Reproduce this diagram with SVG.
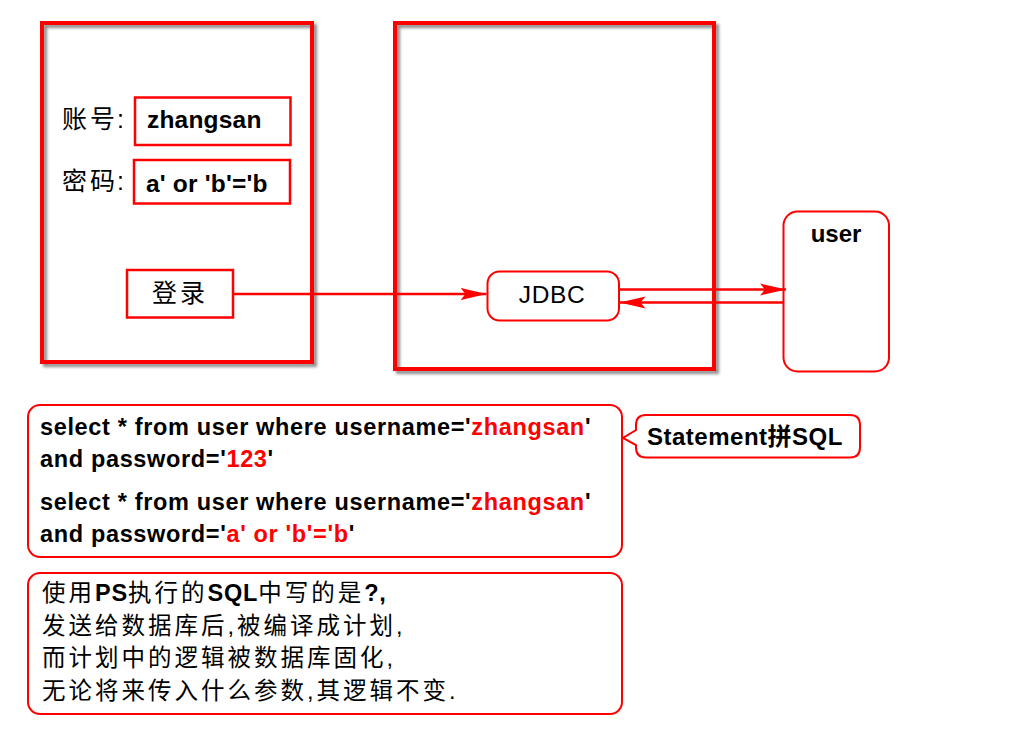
<svg xmlns="http://www.w3.org/2000/svg" width="1024" height="738" viewBox="0 0 1024 738">
<defs>
<filter id="sh" x="-10%" y="-10%" width="125%" height="125%">
<feDropShadow dx="3" dy="3" stdDeviation="1.6" flood-color="#000" flood-opacity="0.45"/>
</filter>
<marker id="ah" markerUnits="userSpaceOnUse" markerWidth="28" markerHeight="14" refX="26" refY="7" orient="auto">
<path d="M0,1 L26,7 L0,13 L5,7 Z" fill="#f00"/>
</marker>
</defs>
<style>
.frame{fill:none;stroke:#f00;stroke-width:4;filter:url(#sh)}
.box{fill:#fff;stroke:#f00;stroke-width:2.5}
.rbox{fill:#fff;stroke:#f00;stroke-width:2}
.t{font-family:"Liberation Sans","Noto Sans CJK SC",sans-serif;fill:#000}
.b{font-weight:bold}
.r{fill:#f00}
.lat{font-weight:bold;letter-spacing:0.8px}
.conn{stroke:#f00;stroke-width:2.5;fill:none;marker-end:url(#ah)}
</style>
<rect width="1024" height="738" fill="#fff"/>

<g id="login-frame">
<rect class="frame" x="42" y="23" width="270" height="339"/>
</g>
<g id="app-frame">
<rect class="frame" x="395" y="23" width="319" height="346"/>
</g>

<g id="account-label"><text class="t" x="62" y="128" font-size="25" letter-spacing="3">账号<tspan dx="-1">:</tspan></text></g>
<g id="account-field">
<rect class="box" x="135" y="97.5" width="155.5" height="47.5"/>
<text class="t b" x="147" y="128" font-size="24.5" letter-spacing="0.2">zhangsan</text>
</g>
<g id="password-label"><text class="t" x="62" y="190" font-size="25" letter-spacing="3">密码<tspan dx="-1">:</tspan></text></g>
<g id="password-field">
<rect class="box" x="134" y="160" width="156" height="43.5"/>
<text class="t b" x="146" y="191.5" font-size="24.5" letter-spacing="0.2">a' or 'b'='b</text>
</g>
<g id="login-button">
<rect class="box" x="127" y="270" width="106" height="47.5"/>
<text class="t" x="180" y="302" font-size="25" letter-spacing="3" text-anchor="middle">登录</text>
</g>

<g id="jdbc">
<rect class="rbox" x="487.5" y="271.5" width="131.5" height="49" rx="12"/>
<text class="t" x="552" y="302.5" font-size="24.5" letter-spacing="0.6" text-anchor="middle">JDBC</text>
</g>
<g id="user-table">
<rect class="rbox" x="783.5" y="211.5" width="105.5" height="160" rx="14"/>
<text class="t b" x="836" y="242" font-size="24" text-anchor="middle">user</text>
</g>

<g id="connectors">
<line class="conn" x1="233" y1="294" x2="486.5" y2="294"/>
<line class="conn" x1="619" y1="289.5" x2="786" y2="289.5"/>
<line class="conn" x1="783.5" y1="302.5" x2="619.5" y2="302.5"/>
</g>

<g id="sql-box">
<rect class="rbox" x="28" y="405" width="594" height="152" rx="12"/>
<text class="t b" x="40" y="435" font-size="23.5" letter-spacing="0.65">select * from user where username='<tspan class="r">zhangsan</tspan>'</text>
<text class="t b" x="40" y="467" font-size="23.5" letter-spacing="0.65">and password='<tspan class="r">123</tspan>'</text>
<text class="t b" x="40" y="510" font-size="23.5" letter-spacing="0.65">select * from user where username='<tspan class="r">zhangsan</tspan>'</text>
<text class="t b" x="40" y="542" font-size="23.5" letter-spacing="0.65">and password='<tspan class="r">a' or 'b'='b</tspan>'</text>
</g>

<g id="statement-callout">
<path class="rbox" d="M646,415 H850 Q860,415 860,425 V447.5 Q860,457.5 850,457.5 H646 Q636,457.5 636,447.5 V445 L623,438 L636,430 V425 Q636,415 646,415 Z"/>
<text class="t b" x="647" y="445" font-size="24" letter-spacing="0.5">Statement拼SQL</text>
</g>

<g id="ps-note">
<rect class="rbox" x="28" y="573" width="594" height="141" rx="12"/>
<text class="t" x="42" y="601" font-size="23.5" letter-spacing="3">使用<tspan class="lat">PS</tspan>执行的<tspan class="lat">SQL</tspan>中写的是<tspan class="lat">?,</tspan></text>
<text class="t" x="42" y="633.5" font-size="23.5" letter-spacing="3">发送给数据库后,被编译成计划,</text>
<text class="t" x="42" y="666" font-size="23.5" letter-spacing="3">而计划中的逻辑被数据库固化,</text>
<text class="t" x="42" y="698.5" font-size="23.5" letter-spacing="3">无论将来传入什么参数,其逻辑不变.</text>
</g>
</svg>
